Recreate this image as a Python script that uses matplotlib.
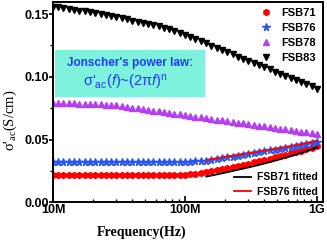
import matplotlib
matplotlib.use('Agg')
import matplotlib.pyplot as plt
from matplotlib.ticker import FixedLocator, FixedFormatter, LogLocator, NullFormatter, MultipleLocator

# frequency sweep (MHz)
freq_mhz = [10, 11.0, 12.0, 13.2, 14.5, 15.8, 17.4, 19.1, 20.9, 22.9,
            25.1, 27.5, 30.2, 33.1, 36.3, 39.8, 43.7, 47.9, 52.5, 57.5,
            63.1, 69.2, 75.9, 83.2, 91.2, 100, 110, 120, 132, 145,
            158, 174, 191, 209, 229, 251, 275, 302, 331, 363,
            398, 437, 479, 525, 575, 631, 692, 759, 832, 912, 1000]

# conductivity (S/cm)
fsb71 = [0.0215, 0.0215, 0.0215, 0.0215, 0.0215, 0.0215, 0.0215, 0.0215, 0.0215, 0.0215,
         0.0215, 0.0215, 0.0215, 0.0215, 0.0215, 0.0215, 0.0215, 0.0215, 0.0215, 0.0215,
         0.0215, 0.0215, 0.0216, 0.0216, 0.0217, 0.0219, 0.0223, 0.0228, 0.0233, 0.0239,
         0.0246, 0.0254, 0.0263, 0.0272, 0.0281, 0.0290, 0.0299, 0.0308, 0.0318, 0.0328,
         0.0338, 0.0348, 0.0358, 0.0368, 0.0379, 0.0390, 0.0401, 0.0412, 0.0423, 0.0435, 0.0447]
fsb76 = [0.0318, 0.0318, 0.0318, 0.0318, 0.0318, 0.0318, 0.0318, 0.0318, 0.0318, 0.0318,
         0.0318, 0.0318, 0.0318, 0.0318, 0.0318, 0.0318, 0.0318, 0.0318, 0.0318, 0.0318,
         0.0318, 0.0319, 0.0319, 0.0320, 0.0321, 0.0322, 0.0324, 0.0326, 0.0329, 0.0333,
         0.0338, 0.0343, 0.0350, 0.0357, 0.0364, 0.0371, 0.0378, 0.0385, 0.0392, 0.0399,
         0.0406, 0.0413, 0.0420, 0.0427, 0.0434, 0.0441, 0.0448, 0.0456, 0.0464, 0.0472, 0.0480]
fsb78 = [0.0790, 0.0790, 0.0789, 0.0789, 0.0788, 0.0787, 0.0786, 0.0784, 0.0783, 0.0781,
         0.0778, 0.0775, 0.0772, 0.0767, 0.0761, 0.0755, 0.0749, 0.0743, 0.0737, 0.0731,
         0.0725, 0.0719, 0.0713, 0.0707, 0.0701, 0.0695, 0.0689, 0.0683, 0.0677, 0.0671,
         0.0665, 0.0659, 0.0653, 0.0647, 0.0641, 0.0635, 0.0629, 0.0623, 0.0617, 0.0611,
         0.0605, 0.0599, 0.0593, 0.0587, 0.0581, 0.0575, 0.0569, 0.0563, 0.0557, 0.0551, 0.0545]
fsb83 = [0.1560, 0.1555, 0.1548, 0.1542, 0.1535, 0.1528, 0.1521, 0.1514, 0.1507, 0.1500,
         0.1492, 0.1484, 0.1475, 0.1466, 0.1457, 0.1448, 0.1439, 0.1430, 0.1421, 0.1411,
         0.1401, 0.1390, 0.1378, 0.1365, 0.1351, 0.1336, 0.1319, 0.1302, 0.1284, 0.1266,
         0.1248, 0.1230, 0.1212, 0.1195, 0.1178, 0.1161, 0.1144, 0.1127, 0.1110, 0.1093,
         0.1076, 0.1059, 0.1042, 0.1025, 0.1008, 0.0991, 0.0974, 0.0957, 0.0940, 0.0923, 0.0906]

# Jonscher fits (above ~145 MHz)
fit_freq_mhz = [145, 174, 209, 251, 302, 363, 437, 525, 631, 759, 912, 1000]
fit71 = [0.0205, 0.0222, 0.0240, 0.0259, 0.0278, 0.0298, 0.0320, 0.0343, 0.0367, 0.0394, 0.0423, 0.0438]
fit76 = [0.0338, 0.0351, 0.0365, 0.0379, 0.0393, 0.0406, 0.0420, 0.0434, 0.0449, 0.0465, 0.0482, 0.0491]

x_ticks = [1e7, 1e8, 1e9]
x_tick_labels = ['10M', '100M', '1G']

plt.rcParams['font.family'] = ['Liberation Sans', 'DejaVu Sans']
plt.rcParams['mathtext.fontset'] = 'custom'
plt.rcParams['mathtext.rm'] = 'Liberation Sans'
plt.rcParams['mathtext.it'] = 'Liberation Sans:italic'
plt.rcParams['mathtext.bf'] = 'Liberation Sans:bold'

W, H = 327, 241
fig = plt.figure(figsize=(W / 100, H / 100), dpi=100)
ax = fig.add_axes([53 / W, 1 - 202.3 / H, 270 / W, 200.8 / H])

f = [v * 1e6 for v in freq_mhz]
ff = [v * 1e6 for v in fit_freq_mhz]

ms = 4.3
ax.plot(f, fsb71, ls='none', marker='h', ms=ms, color='#FF0000', mec='#FF0000', label='FSB71')
ax.plot(f, fsb76, ls='none', marker='*', ms=ms + 1, color='#2A55F5', mec='#2A55F5', label='FSB76')
ax.plot(f, fsb78, ls='none', marker='^', ms=ms, color='#B540EE', mec='#B540EE', label='FSB78')
ax.plot(f, fsb83, ls='none', marker='v', ms=ms, color='black', label='FSB83')
l1, = ax.plot(ff, fit71, color='black', lw=1.3)
l2, = ax.plot(ff, fit76, color='#FF0000', lw=1.3)

ax.set_xscale('log')
ax.set_xlim(1e7, 1.11e9)
ax.set_ylim(0, 0.16)

ax.xaxis.set_major_locator(FixedLocator(x_ticks))
ax.xaxis.set_major_formatter(FixedFormatter(x_tick_labels))
ax.xaxis.set_minor_locator(LogLocator(base=10, subs=range(2, 10)))
ax.xaxis.set_minor_formatter(NullFormatter())
ax.yaxis.set_major_locator(MultipleLocator(0.05))
ax.yaxis.set_minor_locator(MultipleLocator(0.025))
ax.yaxis.set_major_formatter(plt.FormatStrFormatter('%.2f'))

ax.tick_params(axis='x', which='major', direction='in', length=4, width=1.2, pad=1,
               labelsize=9)
ax.tick_params(axis='x', which='minor', direction='in', length=2.5, width=1)
ax.tick_params(axis='y', which='major', direction='out', length=3, width=1.2, pad=0,
               labelsize=9)
ax.tick_params(axis='y', which='minor', direction='out', length=2, width=1)
for lab in ax.get_xticklabels() + ax.get_yticklabels():
    lab.set_fontweight('bold')
for s in ax.spines.values():
    s.set_linewidth(1.4)

fig.text(142 / W, 1 - 232 / H, 'Frequency(Hz)', ha='center', va='center',
         family=['Liberation Serif', 'DejaVu Serif'], fontweight='bold', fontsize=10)
fig.text(10 / W, 1 - 120 / H, "σ'$\\mathregular{_{ac}}$(S/cm)", ha='center', va='center',
         rotation=90, family=['Liberation Serif', 'DejaVu Serif'], fontsize=10.5)

# annotation box
ax.add_patch(plt.Rectangle((55 / W, 1 - 97 / H), 150 / W, 47 / H, transform=fig.transFigure,
                           facecolor='#7FF2DE', edgecolor='none', zorder=1))
fig.text(130 / W, 1 - 63 / H, "Jonscher's power law:", ha='center', va='center',
         color='#1E3CFF', fontweight='bold', fontsize=8.5)
fig.text(125 / W, 1 - 83 / H, "σ'$\\mathregular{_{ac}}$($\\mathit{f}$)~(2π$\\mathit{f}$)$\\mathregular{^{n}}$",
         ha='center', va='center', color='#1E3CFF', fontsize=10.5)

leg1 = ax.legend(loc='upper right', bbox_to_anchor=(1.0, 1.0), frameon=False,
                 prop={'weight': 'bold', 'size': 8}, handletextpad=0.8,
                 labelspacing=0.45, borderaxespad=0.2, handlelength=1.2)
ax.add_artist(leg1)
ax.legend([l1, l2], ['FSB71 fitted', 'FSB76 fitted'], loc='lower right', frameon=False,
          prop={'weight': 'bold', 'size': 7.5}, handletextpad=0.6, labelspacing=0.45,
          borderaxespad=0.1, handlelength=1.6)

fig.savefig('out.png', dpi=100)
